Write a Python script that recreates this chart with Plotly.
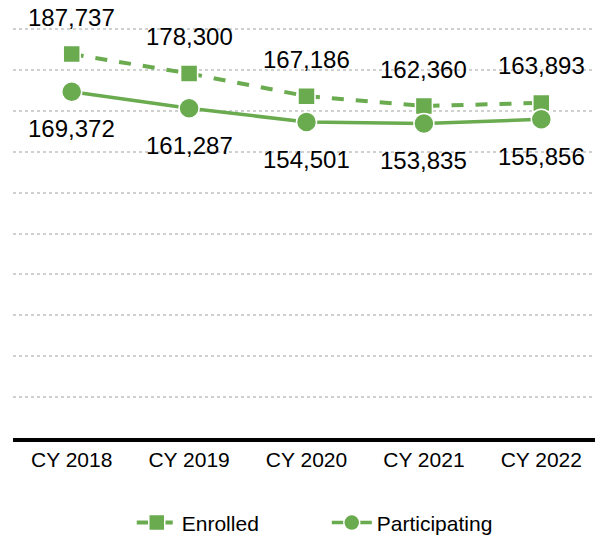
import plotly.graph_objects as go

# data
years = ['CY 2018', 'CY 2019', 'CY 2020', 'CY 2021', 'CY 2022']
enrolled = [187737, 178300, 167186, 162360, 163893]
participating = [169372, 161287, 154501, 153835, 155856]

green = '#6AAB4F'
font = 'Liberation Sans, Arial, sans-serif'

fig = go.Figure()

fig.add_trace(go.Scatter(
    x=years, y=enrolled, name='Enrolled', mode='lines+markers',
    line=dict(color=green, width=4, dash='dash'),
    marker=dict(symbol='square', size=17, color=green, line=dict(color='white', width=1.5)),
))
fig.add_trace(go.Scatter(
    x=years, y=participating, name='Participating', mode='lines+markers',
    line=dict(color=green, width=3.5, dash='solid'),
    marker=dict(symbol='circle', size=20, color=green, line=dict(color='white', width=1.5)),
))

# value labels
for x, v in zip(years, enrolled):
    fig.add_annotation(x=x, y=v, text=f'{v:,}', showarrow=False, yshift=37,
                       font=dict(size=24, color='black', family=font))
for x, v in zip(years, participating):
    fig.add_annotation(x=x, y=v, text=f'{v:,}', showarrow=False, yshift=-37,
                       font=dict(size=24, color='black', family=font))

# page body adds an 8px offset, so the figure is a bit smaller than the window
fig.update_layout(
    width=595, height=533,
    margin=dict(l=5, r=3, t=19, b=103, autoexpand=False),
    paper_bgcolor='white', plot_bgcolor='white',
    font=dict(family=font, color='black'),
    showlegend=True,
    legend=dict(orientation='h', x=0.208, xanchor='left', xref='container',
                y=0.034, yanchor='middle', yref='container',
                font=dict(size=21), itemwidth=40, entrywidth=140),
    xaxis=dict(range=[-0.5, 4.5], showline=True, linecolor='black', linewidth=4,
               ticks='', showgrid=False, tickfont=dict(size=21), automargin=False),
    yaxis=dict(range=[0, 201000], tick0=0, dtick=20000, showticklabels=False, showline=False,
               zeroline=False, gridcolor='#D0D0D0', griddash='dot', gridwidth=1.5,
               automargin=False),
)

fig.write_html("out.html")
